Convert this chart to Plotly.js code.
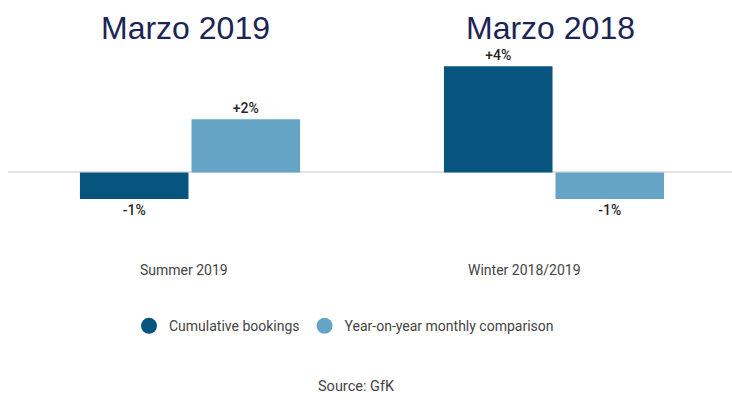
<!DOCTYPE html>
<html>
<head>
<meta charset="utf-8">
<script src="https://cdn.plot.ly/plotly-3.0.1.min.js"></script>
<style>
  html, body { margin: 0; padding: 0; background: #fff; }
  #chart { width: 732px; height: 400px; }
</style>
</head>
<body>
<div id="chart"></div>
<script>
// datos (variación %)
var categorias = ['Summer 2019', 'Winter 2018/2019'];
var titulos = ['Marzo 2019', 'Marzo 2018'];
var serieNombres = ['Cumulative bookings', 'Year-on-year monthly comparison'];
var acumulado = [-1, 4];
var interanual = [2, -1];
var fuente = 'Source: GfK';

var colores = ['#07557f', '#66a4c5'];
var x = [0, 1];

function etiqueta(v) { return (v > 0 ? '+' : '') + v + '%'; }

var fuenteValor = { family: 'Roboto, sans-serif', size: 14, color: '#262626', weight: 500 };

var trazas = [
  { x: x, y: acumulado, name: serieNombres[0], type: 'bar', showlegend: false,
    marker: { color: colores[0] }, text: acumulado.map(etiqueta), texttemplate: '%{text}',
    textposition: 'outside', outsidetextfont: fuenteValor, cliponaxis: false, hoverinfo: 'skip' },
  { x: x, y: interanual, name: serieNombres[1], type: 'bar', showlegend: false,
    marker: { color: colores[1] }, text: interanual.map(etiqueta), texttemplate: '%{text}',
    textposition: 'outside', outsidetextfont: fuenteValor, cliponaxis: false, hoverinfo: 'skip' },
  // solo para la leyenda con círculos
  { x: [null], y: [null], name: serieNombres[0], type: 'scatter', mode: 'markers',
    marker: { color: colores[0], size: 16, symbol: 'circle' } },
  { x: [null], y: [null], name: serieNombres[1], type: 'scatter', mode: 'markers',
    marker: { color: colores[1], size: 16, symbol: 'circle' } }
];

var alto = 400 - 52.75 - 148.25;
function yPaper(py) { return (400 - 148.25 - py) / alto; }

var anotaciones = [];
titulos.forEach(function(t, i) {
  anotaciones.push({ x: x[i], xref: 'x', y: yPaper(28), yref: 'paper', text: t, showarrow: false,
    yanchor: 'middle', xshift: [-5, -4][i],
    font: { family: 'Liberation Sans, Arial, sans-serif', size: 32, color: '#1b2456' } });
});
categorias.forEach(function(c, i) {
  anotaciones.push({ x: x[i], xref: 'x', y: yPaper(270), yref: 'paper', text: c, showarrow: false,
    yanchor: 'middle', xshift: [-6, -30][i],
    font: { family: 'Roboto, sans-serif', size: 14, color: '#444' } });
});
anotaciones.push({ x: 0.5, xref: 'paper', y: yPaper(386), yref: 'paper', text: fuente, showarrow: false,
  yanchor: 'middle', xshift: 356 - (8 + 724 / 2),
  font: { family: 'Roboto, sans-serif', size: 14.5, color: '#444' } });

var layout = {
  width: 732, height: 400,
  margin: { l: 8, r: 0, t: 52.75, b: 148.25 },
  paper_bgcolor: '#fff', plot_bgcolor: '#fff',
  barmode: 'group', bargap: 0.387, bargroupgap: 0.027,
  font: { family: 'Roboto, sans-serif', size: 14, color: '#333' },
  xaxis: { range: [-0.5, 1.489], showticklabels: false, showgrid: false, zeroline: false,
    showline: false, ticks: '', fixedrange: true },
  yaxis: { range: [-3, 4.5], showticklabels: false, showgrid: false, zeroline: true,
    zerolinecolor: '#e2e2e2', zerolinewidth: 2, showline: false, ticks: '', fixedrange: true },
  legend: { orientation: 'h', x: (129 - 8) / 724, xanchor: 'left', y: yPaper(326),
    yanchor: 'middle',
    font: { family: 'Roboto, sans-serif', size: 14, color: '#444' } },
  annotations: anotaciones,
  showlegend: true
};

Plotly.newPlot('chart', trazas, layout, { displayModeBar: false, staticPlot: true });
</script>
</body>
</html>
